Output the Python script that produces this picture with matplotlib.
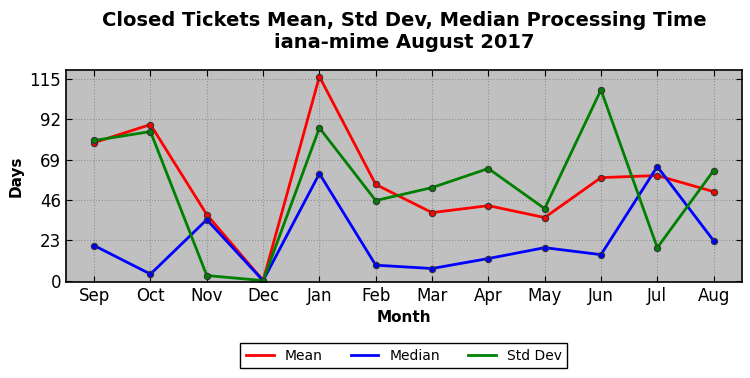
import matplotlib
matplotlib.use('Agg')
import matplotlib.pyplot as plt
from matplotlib.lines import Line2D

months = ['Sep', 'Oct', 'Nov', 'Dec', 'Jan', 'Feb', 'Mar', 'Apr', 'May', 'Jun', 'Jul', 'Aug']
mean_days = [78.8, 89.1, 37.7, 0, 116.5, 54.9, 38.8, 42.8, 36.0, 58.8, 60.0, 50.8]
median_days = [20.0, 3.7, 34.8, 0, 61.1, 8.8, 6.9, 12.6, 18.8, 14.8, 65.1, 22.8]
std_days = [80.0, 85.1, 2.9, 0, 87.2, 45.7, 53.1, 64.0, 41.1, 108.9, 18.8, 62.8]
yticks = [0, 23, 46, 69, 92, 115]

fig = plt.figure(figsize=(7.5, 3.78), dpi=100)
ax = fig.add_axes([0.088, 0.254, 0.901, 0.561])
ax.set_facecolor('#c0c0c0')

x = range(len(months))
series = [('Mean', mean_days, 'red'), ('Median', median_days, 'blue'), ('Std Dev', std_days, 'green')]
for name, vals, col in series:
    ax.plot(x, vals, color=col, lw=2, marker='o', ms=4.5, mec='#333333', mew=0.8)

ax.set_xlim(-0.5, 11.5)
ax.set_ylim(-0.8, 120.3)
ax.set_xticks(list(x))
ax.set_xticklabels(months, fontsize=12)
ax.set_yticks(yticks)
ax.set_yticklabels([str(t) for t in yticks], fontsize=12)
ax.grid(True, linestyle=':', color='#909090', lw=0.8)
ax.tick_params(direction='in', length=4, top=True, right=True)
for s in ax.spines.values():
    s.set_linewidth(1.2)

ax.set_xlabel('Month', fontsize=11, fontweight='bold')
ax.set_ylabel('Days', fontsize=11, fontweight='bold')
ax.set_title('Closed Tickets Mean, Std Dev, Median Processing Time\niana-mime August 2017',
             fontsize=14, fontweight='bold', pad=16)

handles = [Line2D([], [], color=col, lw=2) for _, _, col in series]
leg = ax.legend(handles, [n for n, _, _ in series], loc='upper center', bbox_to_anchor=(0.5, -0.255),
                ncol=3, fontsize=10, fancybox=False, framealpha=1, edgecolor='black',
                columnspacing=2.0, handlelength=2.0)
leg.get_frame().set_linewidth(1.0)

plt.savefig('out.png', dpi=100)
